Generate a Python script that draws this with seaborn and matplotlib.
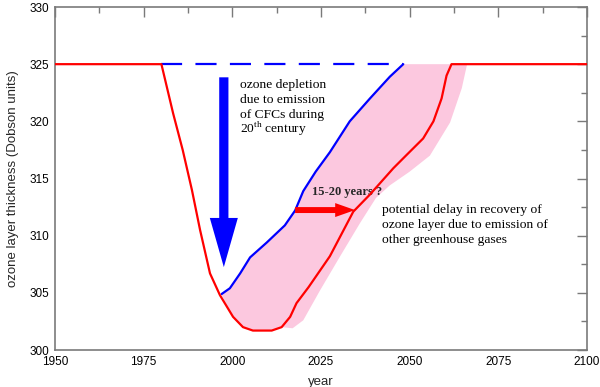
import matplotlib
matplotlib.use("Agg")
import matplotlib.pyplot as plt
import seaborn as sns
from matplotlib.ticker import MultipleLocator

# --- data ---
red_year = [1950, 1980, 1983.3, 1986, 1988.6, 1990.9, 1993.7, 1996.5, 2000.2, 2003,
            2005.8, 2011.1, 2013.9, 2016.3, 2018.1, 2021.5, 2027.5, 2034.1, 2038.8,
            2045.4, 2049.1, 2053.8, 2056.7, 2059.0, 2060.4, 2061.8, 2100]
red_ozone = [325, 325, 320.7, 317.5, 314.0, 310.5, 306.7, 304.8, 302.9, 302.0,
             301.7, 301.7, 302.0, 302.9, 304.1, 305.5, 308.2, 312.1, 313.6,
             315.9, 317.05, 318.5, 320.0, 322.0, 324.0, 325, 325]

blue_year = [1997, 1999.3, 2002.2, 2005, 2009.7, 2014.8, 2017.7, 2020, 2023.5,
             2027.5, 2033.1, 2038.8, 2044.4, 2048.2]
blue_ozone = [304.9, 305.4, 306.7, 308.1, 309.4, 310.9, 312.2, 313.9, 315.6,
              317.3, 320.0, 322.0, 323.9, 325]

dash_year = [1980, 2048.2]
dash_ozone = [325, 325]

# right-hand edge of the pink band (from top down), then red bottom back to 1997
band_edge_year = [2066.2, 2064.7, 2061.4, 2055.7, 2050, 2044.4, 2040.5, 2036, 2030.4,
                  2024.7, 2020, 2017]
band_edge_ozone = [325, 322.9, 319.9, 317.0, 315.6, 314.4, 313.3, 311.1, 308.2,
                   305.2, 302.6, 301.9]
band_low_year = [2013.9, 2011.1, 2005.8, 2003, 2000.2, 1997]
band_low_ozone = [302.0, 301.7, 301.7, 302.0, 302.9, 304.8]

x_ticks = [1950, 1975, 2000, 2025, 2050, 2075, 2100]
y_ticks = [300, 305, 310, 315, 320, 325, 330]

RED = "#ff0000"
BLUE = "#0000ff"
PINK = "#fcc8df"
GREY = "#7a7a7a"

sns.set_style("white")
plt.rcParams["font.family"] = ["Liberation Sans", "DejaVu Sans"]
plt.rcParams["mathtext.fontset"] = "custom"
plt.rcParams["mathtext.rm"] = "Liberation Serif"

fig = plt.figure(figsize=(6, 3.87), dpi=100)
ax = fig.add_axes([0.0917, 0.0956, 0.8866, 0.8863])

# pink band: blue curve on top, band edge and red bottom underneath
poly_x = blue_year + band_edge_year + band_low_year
poly_y = blue_ozone + band_edge_ozone + band_low_ozone
ax.fill(poly_x, poly_y, color=PINK, lw=0, zorder=1)

sns.lineplot(x=dash_year, y=dash_ozone, ax=ax, color=BLUE, lw=1.6,
             linestyle=(0, (9.5, 6)), zorder=2)
sns.lineplot(x=blue_year, y=blue_ozone, ax=ax, color=BLUE, lw=1.6,
             estimator=None, sort=False, solid_joinstyle="round", zorder=3)
sns.lineplot(x=red_year, y=red_ozone, ax=ax, color=RED, lw=1.6,
             estimator=None, sort=False, solid_joinstyle="round", zorder=4)

# big blue arrow and the red delay arrow
ax.arrow(1997.6, 323.85, 0, -16.6, width=2.6, head_width=7.9, head_length=4.3,
         length_includes_head=True, color=BLUE, lw=0, zorder=5)
ax.arrow(2017.7, 312.24, 16.9, 0, width=0.52, head_width=1.22, head_length=5.6,
         length_includes_head=True, color=RED, lw=0, zorder=5)

serif = dict(family="Liberation Serif", fontsize=9.7, color="black", va="baseline", ha="left")
ax.text(2002.2, 322.91, "ozone depletion", **serif)
ax.text(2002.2, 321.60, "due to emission", **serif)
ax.text(2002.2, 320.29, "of CFCs during", **serif)
ax.text(2002.2, 318.98, r"20$^{\mathrm{th}}$ century", **serif)

ax.text(2022.4, 313.55, "15-20 years ?", family="Liberation Serif", fontsize=9,
        fontweight="bold", va="baseline", ha="left")

ax.text(2042.1, 311.95, "potential delay in recovery of", **serif)
ax.text(2042.1, 310.64, "ozone layer due to emission of", **serif)
ax.text(2042.1, 309.33, "other greenhouse gases", **serif)

ax.set_xlim(1950, 2100)
ax.set_ylim(300, 330)
ax.set_xticks(x_ticks)
ax.set_yticks(y_ticks)
ax.xaxis.set_minor_locator(MultipleLocator(12.5))
ax.yaxis.set_minor_locator(MultipleLocator(2.5))
ax.tick_params(which="both", direction="in", top=True, right=True, color=GREY,
               labelsize=8.5, labelcolor="black", pad=4)
ax.tick_params(which="major", length=7, width=1)
ax.tick_params(which="minor", length=4, width=1)
for s in ax.spines.values():
    s.set_color(GREY)
    s.set_linewidth(1.2)
    s.set_visible(True)

ax.set_xlabel("year", fontsize=9.5, labelpad=6)
ax.set_ylabel("ozone layer thickness (Dobson units)", fontsize=9.5, labelpad=8)

fig.savefig("out.png", dpi=100)
